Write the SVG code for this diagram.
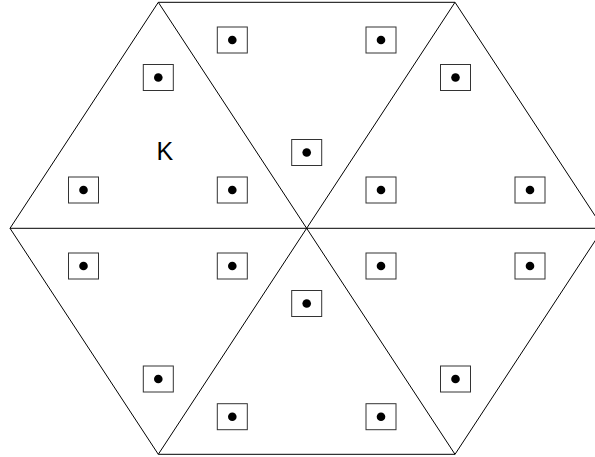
<svg xmlns="http://www.w3.org/2000/svg" width="595" height="457" viewBox="0 0 595 457">
<defs>
<style>
.edge{stroke:#000;stroke-width:1;fill:none}
.box{fill:#fff;stroke:#333;stroke-width:1}
.dot{fill:#000}
.lbl{font-family:"Liberation Sans",Arial,sans-serif;font-size:25px;fill:#000}
</style>
<g id="pt">
<rect class="box" x="-15" y="-13" width="30" height="26"/>
<circle class="dot" cx="0" cy="0" r="4.3"/>
</g>
</defs>
<rect width="595" height="457" fill="#fff"/>
<g id="connectors">
<polygon class="edge" points="10,228.3 158.3,2.3 455,2.3 603.3,228.3 455,454.3 158.3,454.3"/>
<line class="edge" x1="10" y1="228.3" x2="603.3" y2="228.3"/>
<line class="edge" x1="158.3" y1="2.3" x2="455" y2="454.3"/>
<line class="edge" x1="455" y1="2.3" x2="158.3" y2="454.3"/>
</g>
<g id="nodes">
<use id="n1" href="#pt" x="232.3" y="40"/>
<use id="n2" href="#pt" x="381" y="40"/>
<use id="n3" href="#pt" x="158.3" y="77.5"/>
<use id="n4" href="#pt" x="455.5" y="77.5"/>
<use id="n5" href="#pt" x="306.7" y="152.5"/>
<use id="n6" href="#pt" x="83.5" y="190"/>
<use id="n7" href="#pt" x="232.3" y="190"/>
<use id="n8" href="#pt" x="381" y="190"/>
<use id="n9" href="#pt" x="530" y="190"/>
<use id="n10" href="#pt" x="83.5" y="266"/>
<use id="n11" href="#pt" x="232.3" y="266"/>
<use id="n12" href="#pt" x="381" y="266"/>
<use id="n13" href="#pt" x="530" y="266"/>
<use id="n14" href="#pt" x="306.7" y="303.5"/>
<use id="n15" href="#pt" x="158.3" y="379"/>
<use id="n16" href="#pt" x="455.5" y="379"/>
<use id="n17" href="#pt" x="232.3" y="416.7"/>
<use id="n18" href="#pt" x="381" y="416.7"/>
</g>
<g id="label-K">
<text class="lbl" x="156.5" y="160">K</text>
</g>
</svg>
